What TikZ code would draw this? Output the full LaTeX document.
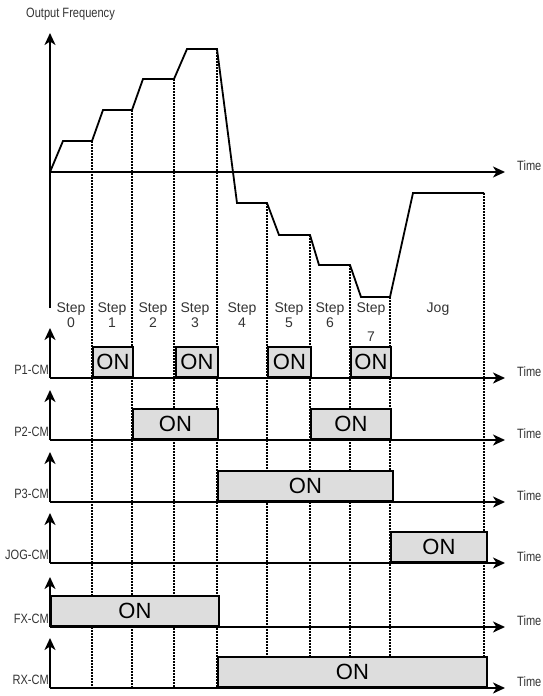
\documentclass[tikz,border=0pt]{standalone}
\usepackage{fontspec}
\setmainfont{Liberation Sans}
\newfontfamily\narrowfont[FakeStretch=0.82]{Liberation Sans}
\usetikzlibrary{arrows.meta}
\definecolor{cOn}{HTML}{DDDDDD}
\definecolor{cTxt}{HTML}{333333}
\tikzset{
  axis/.style={line width=1.8pt, -{Stealth[length=12pt, width=11pt, inset=3.5pt]}},
  curve/.style={line width=1.8pt, line join=miter},
  dotline/.style={line width=1.3pt, dash pattern=on 1.5pt off 1.5pt},
  onbox/.style={draw, fill=cOn, line width=1.8pt, minimum height=30pt, inner sep=0pt,
                anchor=south west, font=\fontsize{22}{24}\selectfont},
  lbl/.style={font=\narrowfont\fontsize{13.5}{16}\selectfont, text=cTxt, inner sep=0pt},
  steplbl/.style={font=\fontsize{14}{15}\selectfont, text=cTxt, align=center, inner sep=0pt, anchor=north},
}
\begin{document}
\begin{tikzpicture}[x=1pt,y=-1pt]
  \useasboundingbox (0,0) rectangle (543,696);
  \coordinate (o) at (50,172);
  \coordinate (bot) at (0,688);

  % speed profile corners, each step ends on a dotted line
  \path (92,141) coordinate (c1) (132,110) coordinate (c2) (174,79) coordinate (c3)
        (217,49) coordinate (c4) (267,203) coordinate (c5) (310,235) coordinate (c6)
        (350,265) coordinate (c7) (390,297) coordinate (c8) (484,193) coordinate (c9);
  \foreach \c in {c1,c2,c3,c4,c5,c6,c7,c8,c9}
    \draw[dotline] (\c) -- (\c |- bot);

  \node[lbl, anchor=west] (freq) at (26,14) {Output Frequency};
  \draw[axis] (50,308) -- (50,33);
  \draw[axis] (o) -- (505,172) coordinate (tend);
  \node[lbl, anchor=west] (time) at (517,166) {Time};
  \draw[curve] (o) -- (63,141) -- (c1) -- (103,110) -- (c2) -- (143,79) -- (c3)
    -- (187,49) -- (c4) -- (237,203) -- (c5) -- (279,235) -- (c6) -- (319,265)
    -- (c7) -- (361,297) -- (c8) -- (413,193) -- (c9);

  % step names
  \foreach \x/\n in {71/0,112/1,153/2,195/3,242/4,289/5,330/6}
    \node[steplbl] (step\n) at (\x,303) {Step\\\n};
  \node[steplbl] (step7) at (371,303) {Step\\[14pt]7};
  \node[steplbl] (jog) at (438,303) {Jog};

  % input terminals
  \foreach \yb/\nm/\txt in {378/p1/P1-CM,440/p2/P2-CM,502/p3/P3-CM,563/jg/JOG-CM,627/fx/FX-CM,688/rx/RX-CM}{
    \coordinate (\nm) at (50,\yb);
    \draw[axis] (\nm) -- ++(0,-50);
    \draw[axis] (\nm) -- ++(455,0) coordinate (\nm end);
    \node[lbl, anchor=east] (\nm lbl) at ([xshift=-1pt,yshift=8pt]\nm) {\txt};
    \node[lbl, anchor=west] (\nm time) at ([xshift=12pt,yshift=6pt]\nm end) {Time};
  }
  \foreach \a/\b/\yb/\i in {92/132/378/1,175/217/378/2,267/310/378/3,350/390/378/4,
      132/217/440/5,310/390/440/6,217/392/502/7,390/486/563/8,50/218/627/9,217/486/688/10}
    \node[onbox, minimum width={(\b-\a)*1pt}] (on\i) at (\a,\yb) {ON};
\end{tikzpicture}
\end{document}
